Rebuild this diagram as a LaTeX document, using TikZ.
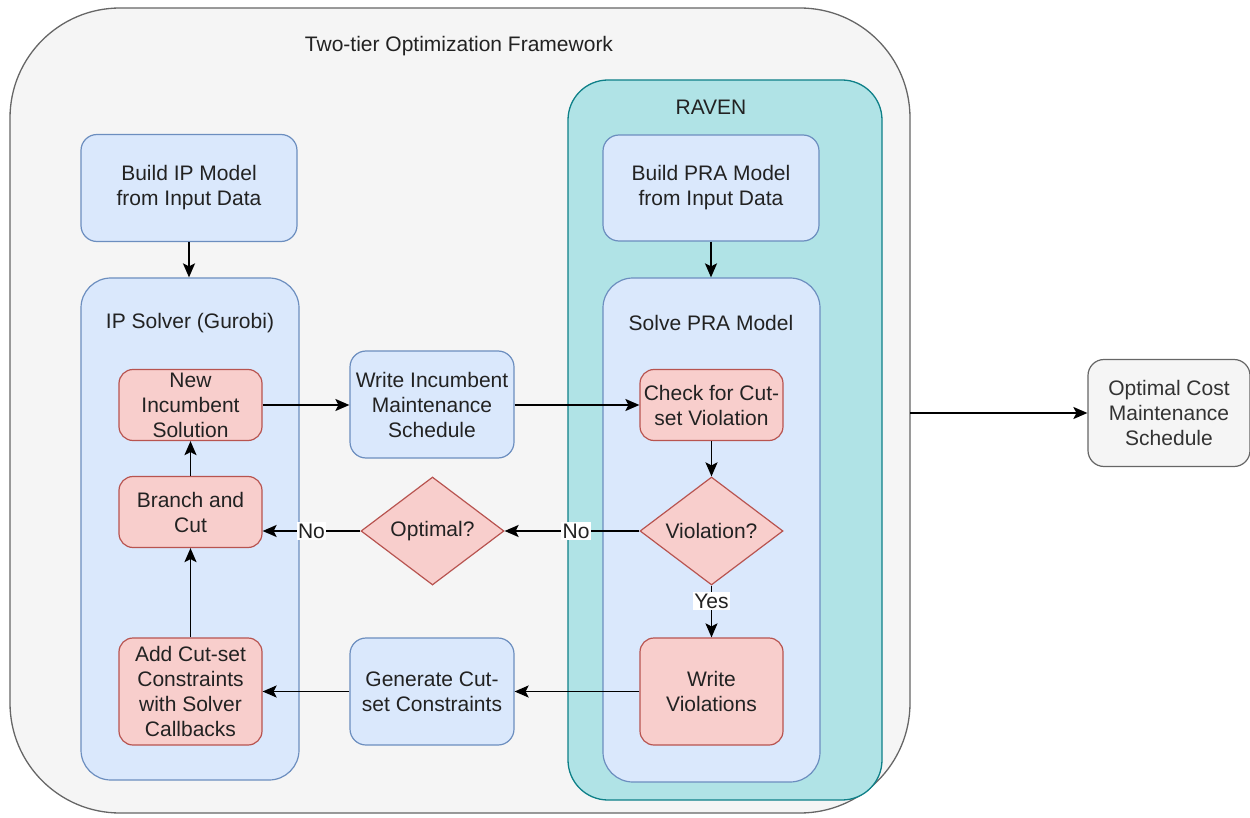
\documentclass[tikz,border=0pt]{standalone}
\usepackage{fontspec}
\setmainfont{Liberation Sans}
\usetikzlibrary{shapes.geometric,arrows.meta}
\definecolor{outerfill}{HTML}{F5F5F5}
\definecolor{outerdraw}{HTML}{666666}
\definecolor{bluefill}{HTML}{DAE8FC}
\definecolor{bluedraw}{HTML}{6C8EBF}
\definecolor{redfill}{HTML}{F8CECC}
\definecolor{reddraw}{HTML}{B85450}
\definecolor{tealfill}{HTML}{B0E3E6}
\definecolor{tealdraw}{HTML}{0E8088}
\definecolor{txt}{HTML}{222222}
\definecolor{graytxt}{HTML}{333333}
\tikzset{
  every node/.style={font=\fontsize{21}{25}\selectfont, text=txt, align=center, inner sep=0pt},
  bluebox/.style={draw=bluedraw, fill=bluefill, line width=1.2pt, rounded corners=16pt},
  redbox/.style={draw=reddraw, fill=redfill, line width=1.2pt, rounded corners=14pt, minimum width=143pt, minimum height=71pt},
  reddiam/.style={diamond, draw=reddraw, fill=redfill, line width=1.2pt, minimum width=143pt, minimum height=108pt, aspect=1.32},
  conn/.style={draw=black, line width=1.7pt, -{Stealth[length=14pt,width=12pt,inset=3pt]}},
  lbl/.style={fill=white, inner sep=1.5pt}
}
\begin{document}
\begin{tikzpicture}[x=1pt,y=-1pt]
\useasboundingbox (0,0) rectangle (1250,818);
% outer frame
\draw[draw=outerdraw, fill=outerfill, line width=1.3pt, rounded corners=110pt] (10,8) rectangle (910,813);
\node (title) at (459,46) {Two-tier Optimization Framework};
\coordinate (frameR) at (910,413);
% RAVEN
\draw[draw=tealdraw, fill=tealfill, line width=1.3pt, rounded corners=40pt] (568,80) rectangle (882,800);
\node (raven) at (711,107) {RAVEN};
% containers
\node[bluebox, minimum width=218pt, minimum height=502pt, rounded corners=30pt] (ipsolver) at (190,529) {};
\node (iptitle) at (190,323) {IP Solver (Gurobi)};
\node[bluebox, minimum width=217pt, minimum height=504pt, rounded corners=30pt] (solvepra) at (711.5,530) {};
\node (pratitle) at (711,323) {Solve PRA Model};
% top boxes
\node[bluebox, minimum width=216pt, minimum height=107pt] (buildip) at (189,188) {Build IP Model\\from Input Data};
\node[bluebox, minimum width=216pt, minimum height=106pt] (buildpra) at (711,188) {Build PRA Model\\from Input Data};
% red boxes
\node[redbox] (newinc) at (190.5,405) {New\\Incumbent\\Solution};
\node[redbox] (branch) at (190.5,512) {Branch and\\Cut};
\node[redbox, minimum height=107pt] (addcut) at (190.5,691.5) {Add Cut-set\\Constraints\\with Solver\\Callbacks};
\node[redbox] (check) at (711.5,405) {Check for Cut-\\set Violation};
\node[redbox, minimum height=107pt] (writeviol) at (711.5,691.5) {Write\\Violations};
\node[reddiam] (viol) at (711.5,531) {Violation?};
\node[reddiam] (optimal) at (432.5,531) {Optimal?};
% middle blue boxes
\node[bluebox, minimum width=164pt, minimum height=107pt] (writeinc) at (432,404.5) {Write Incumbent\\Maintenance\\Schedule};
\node[bluebox, minimum width=164pt, minimum height=107pt] (gencut) at (432,691.5) {Generate Cut-\\set Constraints};
% output
\node[draw=outerdraw, fill=outerfill, line width=1.2pt, rounded corners=16pt, minimum width=162pt, minimum height=107pt, text=graytxt] (out) at (1169,413) {Optimal Cost\\Maintenance\\Schedule};
% connectors
\draw[conn] (buildip) -- (ipsolver.north -| buildip);
\draw[conn] (buildpra) -- (solvepra.north -| buildpra);
\draw[conn] (newinc) -- (writeinc.west |- newinc);
\draw[conn] (writeinc.east |- newinc) -- (check);
\draw[conn] (check) -- (viol);
\draw[conn] (viol) -- node[lbl, pos=0.47] {No} (optimal);
\draw[conn] (optimal.west) -- node[lbl, pos=0.5] {No} (branch.east |- optimal.west);
\draw[conn] (viol) -- node[lbl, pos=0.3] {Yes} (writeviol);
\draw[conn] (writeviol) -- (gencut);
\draw[conn] (gencut) -- (addcut);
\draw[conn] (addcut) -- (branch);
\draw[conn] (branch) -- (newinc);
\draw[conn] (frameR) -- (out);
\end{tikzpicture}
\end{document}
